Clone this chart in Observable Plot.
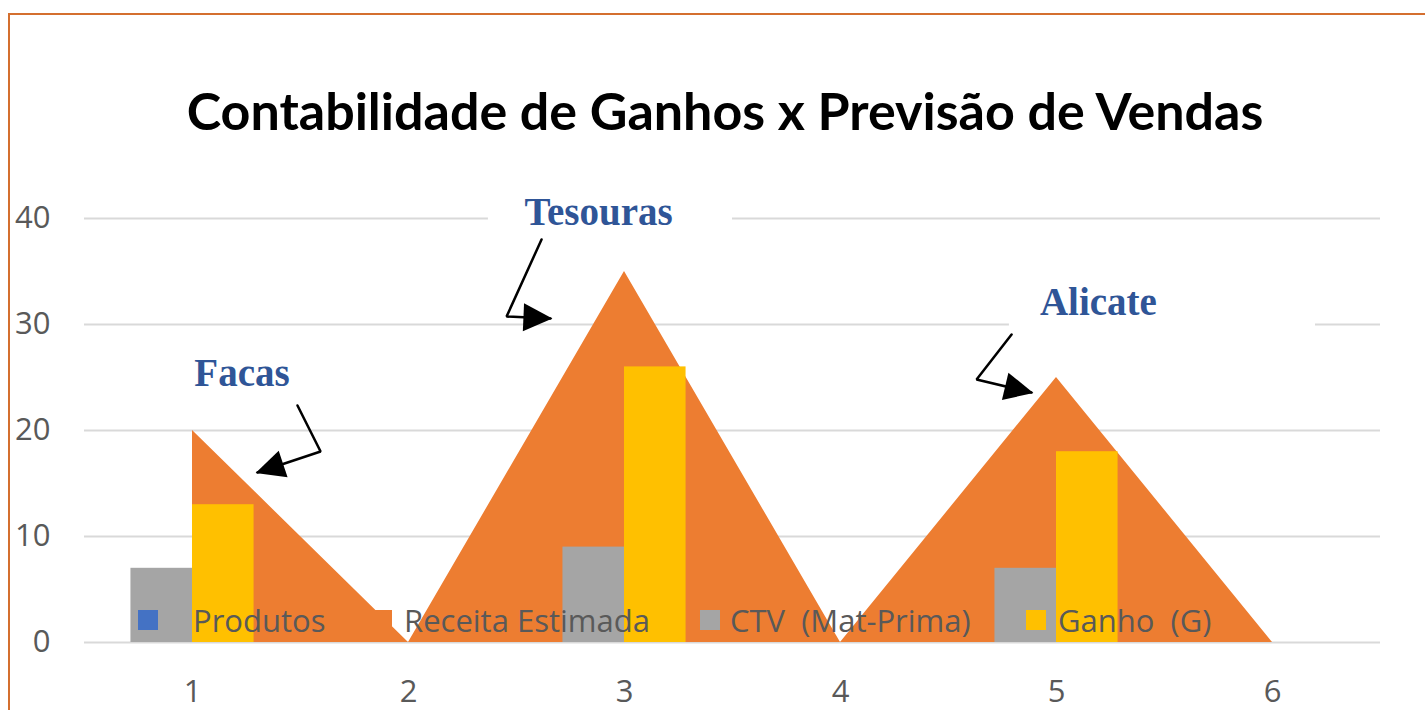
<!DOCTYPE html>
<html>
<head>
<meta charset="utf-8">
<script src="https://cdn.jsdelivr.net/npm/d3@7"></script>
<script src="https://cdn.jsdelivr.net/npm/@observablehq/plot@0.6"></script>
<style>
html,body{margin:0;padding:0;background:#fff;overflow:hidden}
#wrap{position:relative;width:1425px;height:710px;overflow:hidden;background:#fff}
#border{position:absolute;left:8px;top:13px;width:1500px;height:800px;border:2px solid #D46F2F;box-sizing:border-box;pointer-events:none}
#title{position:absolute;left:0;width:1450px;top:84px;text-align:center;font-family:Lato,"Open Sans",sans-serif;font-weight:700;font-size:52px;line-height:1;color:#000;white-space:nowrap}
#chart{position:absolute;left:0;top:0}
.leg{position:absolute;top:0;left:0;font-family:"Open Sans",sans-serif;font-size:31px;color:#595959;white-space:pre;line-height:1}
.sw{position:absolute;width:20px;height:20px}
</style>
</head>
<body>
<div id="wrap">
  <div id="border"></div>
  <div id="chart"></div>
  <div id="title">Contabilidade de Ganhos x Previsão de Vendas</div>
</div>
<script>
// ---- data ----
const categories = [1, 2, 3, 4, 5, 6];
const receitaEstimada = [20, 0, 35, 0, 25, 0];
const ctvMatPrima = [7, null, 9, null, 7, null];
const ganho = [13, null, 26, null, 18, null];
const produtos = [null, null, null, null, null, null];
const yTicks = [0, 10, 20, 30, 40];
const seriesNames = ["Produtos", "Receita Estimada", "CTV  (Mat-Prima)", "Ganho  (G)"];
const annotationLabels = ["Facas", "Tesouras", "Alicate"];
// label anchor (data coords)
const annotationX = [1.229, 2.880, 5.194];
const annotationY = [25.4, 40.57, 32.08];
// arrow paths (data coords): start, elbow, tip
const arrowX = [[1.486, 1.593, 1.301], [2.616, 2.454, 2.657], [4.792, 4.630, 4.884]];
const arrowY = [[22.36, 18.02, 16.04], [38.02, 30.75, 30.57], [29.06, 24.81, 23.58]];
// white text boxes behind labels (data coords)
const boxX1 = [0.93, 2.37, 4.782];
const boxX2 = [1.60, 3.50, 6.199];
const boxY1 = [22.8, 37.9, 29.4];
const boxY2 = [28.0, 42.5, 34.0];

// ---- styles ----
const colors = {"Produtos": "#4472C4", "Receita Estimada": "#ED7D31", "CTV  (Mat-Prima)": "#A5A5A5", "Ganho  (G)": "#FFC000"};
const W = 1425, H = 710;
const mL = 84, mR = 45, mT = 218, mB = 68;
const xDomain = [0.5, 6.5];
const kx = (W - mL - mR) / (xDomain[1] - xDomain[0]);
const ky = (H - mT - mB) / 40;
const halfGroup = 0.285;

const rows = categories.map((c, i) => ({cat: c, receita: receitaEstimada[i], ctv: ctvMatPrima[i], ganho: ganho[i], produtos: produtos[i]}));
const notes = annotationLabels.map((l, i) => ({label: l, x: annotationX[i], y: annotationY[i], bx1: boxX1[i], bx2: boxX2[i], by1: boxY1[i], by2: boxY2[i]}));
const arrowPts = [];
const arrowTips = [];
annotationLabels.forEach((l, i) => {
  arrowX[i].forEach((x, j) => arrowPts.push({label: l, x, y: arrowY[i][j]}));
  const n = arrowX[i].length;
  const dx = (arrowX[i][n - 1] - arrowX[i][n - 2]) * kx;
  const dy = -(arrowY[i][n - 1] - arrowY[i][n - 2]) * ky;
  arrowTips.push({label: l, x: arrowX[i][n - 1], y: arrowY[i][n - 1], angle: Math.atan2(dy, dx) * 180 / Math.PI});
});
const arrowHead = {draw(ctx) { ctx.moveTo(2, 0); ctx.lineTo(-27, -14); ctx.lineTo(-27, 14); ctx.closePath(); }};

const chart = Plot.plot({
  width: W, height: H,
  marginLeft: mL, marginRight: mR, marginTop: mT, marginBottom: mB,
  x: {domain: xDomain, axis: null},
  y: {domain: [0, 40], axis: null},
  style: {background: "transparent", color: "#595959", fontFamily: "'Open Sans', sans-serif", overflow: "visible"},
  marks: [
    Plot.ruleY(yTicks, {stroke: "#d9d9d9", strokeWidth: 2}),
    Plot.areaY(rows, {x: "cat", y: "receita", fill: colors["Receita Estimada"], curve: "linear"}),
    Plot.rectY(rows.filter(d => d.ctv != null), {x1: d => d.cat - halfGroup, x2: d => d.cat, y1: 0, y2: "ctv", fill: colors["CTV  (Mat-Prima)"]}),
    Plot.rectY(rows.filter(d => d.ganho != null), {x1: d => d.cat, x2: d => d.cat + halfGroup, y1: 0, y2: "ganho", fill: colors["Ganho  (G)"]}),
    Plot.rect(notes, {x1: "bx1", x2: "bx2", y1: "by1", y2: "by2", fill: "white"}),
    Plot.line(arrowPts, {x: "x", y: "y", z: "label", stroke: "black", strokeWidth: 2.5, strokeLinejoin: "miter", curve: "linear"}),
    Plot.dot(arrowTips, {x: "x", y: "y", symbol: arrowHead, rotate: "angle", fill: "black", stroke: "none", r: 10}),
    Plot.text(notes, {x: "x", y: "y", text: "label", fontFamily: "'Liberation Serif', 'Times New Roman', serif", fontWeight: "bold", fontSize: 39, fill: "#2F5597", lineAnchor: "middle"}),
    Plot.axisY(yTicks, {tickSize: 0, tickPadding: 34, fontSize: 31, label: null}),
    Plot.axisX(categories, {tickSize: 0, tickPadding: 37, fontSize: 31, label: null, tickFormat: d => String(d)})
  ]
});
document.getElementById("chart").appendChild(chart);

// legend overlay (drawn on top of plot, like the reference)
const legLefts = [138, 372, 700, 1026];
const textGaps = [55, 32, 30, 32];
const wrap = document.getElementById("wrap");
seriesNames.forEach((name, i) => {
  const sw = document.createElement("div");
  sw.className = "sw";
  sw.style.left = legLefts[i] + "px";
  sw.style.top = "610px";
  sw.style.background = colors[name];
  wrap.appendChild(sw);
  const t = document.createElement("div");
  t.className = "leg";
  t.textContent = name;
  t.style.left = (legLefts[i] + textGaps[i]) + "px";
  t.style.top = "605px";
  wrap.appendChild(t);
});
</script>
</body>
</html>
